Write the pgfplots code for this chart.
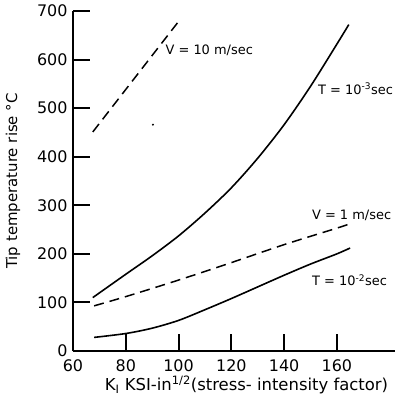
\documentclass[border=0pt]{standalone}
\usepackage{fontspec}
\setmainfont{DejaVu Sans}
\usepackage{pgfplots}
\pgfplotsset{compat=1.18}
\begin{document}
\begin{tikzpicture}
\begin{axis}[
  scale only axis, width=322bp, height=340bp,
  xmin=60, xmax=182, ymin=0, ymax=700,
  axis x line*=bottom, axis y line*=left,
  axis line style={black, line width=1.4bp},
  xtick={60,80,...,160}, ytick={0,100,...,700},
  xtick align=inside, ytick align=inside,
  major tick length=17bp,
  major tick style={draw=black, line width=2bp},
  tick label style={font=\fontsize{16}{19}\selectfont},
  /pgf/number format/assume math mode=true,
  xticklabel style={yshift=-5bp},
  yticklabel style={xshift=-2bp},
  xlabel={K\textsubscript{I} KSI-in\textsuperscript{1/2}(stress- intensity factor)},
  xlabel style={font=\fontsize{16.5}{19}\selectfont, at={(axis description cs:0.539,0)}, anchor=center, yshift=-34bp},
  ylabel={Tip temperature rise °C},
  ylabel style={font=\fontsize{15}{18}\selectfont, at={(axis description cs:-0.186,0.5)}, anchor=center},
  clip=false,
]
\coordinate (ll) at (rel axis cs:0,0);
\coordinate (ur) at (rel axis cs:1,1);
% V = 10 m/sec
\addplot[black, line width=1.5bp, dash pattern=on 10bp off 6bp] coordinates {(67.5,451) (100.5,682)};
% T = 1e-3 sec
\addplot[black, line width=1.6bp, smooth] coordinates {
(67.5,110) (80,158) (90,196) (100,237) (110,284) (120,336) (130,397) (140,466) (150,545) (160,632) (164.5,672)};
% V = 1 m/sec
\addplot[black, line width=1.5bp, dash pattern=on 10bp off 6bp, smooth] coordinates {
(68,93) (80,112) (100,146) (120,182) (140,219) (160,253) (166,264)};
% T = 1e-2 sec
\addplot[black, line width=1.6bp, smooth] coordinates {
(68,28) (80,36) (90,47) (100,63) (110,85) (120,108) (130,132) (140,156) (150,179) (160,200) (165,212)};
% stray dot
\addplot[only marks, mark=*, mark size=0.8bp, black] coordinates {(90.3,466)};
\node[font=\fontsize{13}{15}\selectfont, anchor=west, inner sep=0pt] at (axis cs:95,620) {V = 10 m/sec};
\node[font=\fontsize{13}{15}\selectfont, anchor=west, inner sep=0pt] at (axis cs:152.8,540) {T = 10\textsuperscript{-3}sec};
\node[font=\fontsize{13}{15}\selectfont, anchor=west, inner sep=0pt] at (axis cs:150.5,280) {V = 1 m/sec};
\node[font=\fontsize{13}{15}\selectfont, anchor=west, inner sep=0pt] at (axis cs:150.5,146) {T = 10\textsuperscript{-2}sec};
\end{axis}
\pgfresetboundingbox
\path ([xshift=-73bp,yshift=-59bp]ll) rectangle ([xshift=7bp,yshift=11bp]ur);
\end{tikzpicture}
\end{document}
